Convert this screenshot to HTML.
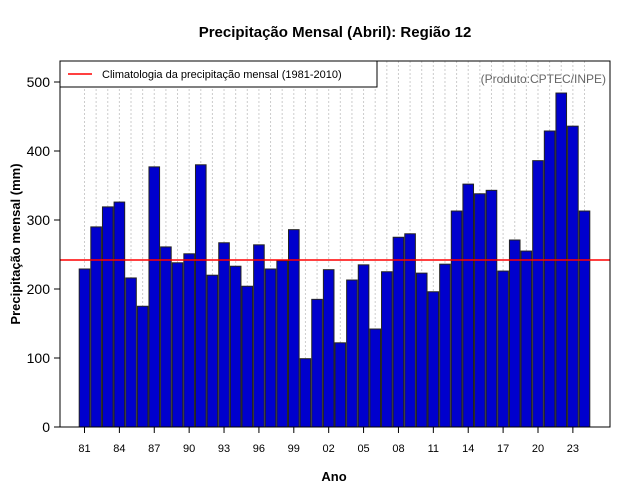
<!DOCTYPE html>
<html><head><meta charset="utf-8"><style>body{margin:0;background:#fff}svg{display:block;font-family:"Liberation Sans",sans-serif}</style></head>
<body>
<svg id="chart" width="640" height="500">
<text x="335" y="37" text-anchor="middle" font-size="15" font-weight="bold">Precipitação Mensal (Abril): Região 12</text>
<g id="grid"></g>
<g id="bars"></g>
<line id="clim" stroke="#ff0000" stroke-width="1.5" x1="60" x2="610"/>
<rect x="60" y="61" width="550" height="366" fill="none" stroke="#000"/>
<g id="yaxis"></g><g id="xaxis"></g>
<g>
<rect x="60" y="61" width="317" height="26" fill="#fff" stroke="#000"/>
<line x1="68" x2="92" y1="74" y2="74" stroke="#ff0000" stroke-width="1.5"/>
<text x="102" y="78" font-size="11">Climatologia da precipitação mensal (1981-2010)</text>
</g>
<text x="606" y="83" text-anchor="end" font-size="12" fill="#666">(Produto:CPTEC/INPE)</text>
<text x="20" y="244" text-anchor="middle" font-size="13" font-weight="bold" transform="rotate(-90 20 244)">Precipitação mensal (mm)</text>
<text x="334" y="481" text-anchor="middle" font-size="13" font-weight="bold">Ano</text>
</svg>
<script>
const years=[1981,1982,1983,1984,1985,1986,1987,1988,1989,1990,1991,1992,1993,1994,1995,1996,1997,1998,1999,2000,2001,2002,2003,2004,2005,2006,2007,2008,2009,2010,2011,2012,2013,2014,2015,2016,2017,2018,2019,2020,2021,2022,2023,2024];
const values=[229,290,319,326,216,175,377,261,238,251,380,220,267,233,204,264,229,241,286,99,185,228,122,213,235,142,225,275,280,223,196,236,313,352,338,343,226,271,255,386,429,484,436,313];
const climatology=[242];
const yTicks=[0,100,200,300,400,500];
const NS="http://www.w3.org/2000/svg";
const y=v=>427-v*0.69;
const x=i=>84.5+i*(500/43);
const mk=(t,a,p)=>{const e=document.createElementNS(NS,t);for(const k in a)e.setAttribute(k,a[k]);p.appendChild(e);return e;};
const grid=document.getElementById('grid'),bars=document.getElementById('bars'),ya=document.getElementById('yaxis'),xa=document.getElementById('xaxis');
years.forEach((yr,i)=>{
 const g=mk('line',{x1:x(i),x2:x(i),y1:61,y2:427,stroke:'#ccc','stroke-dasharray':'2,2'},grid);
 
 
 const r=mk('rect',{x:x(i)-5.3,y:y(values[i]),width:10.6,height:427-y(values[i]),fill:'#0000cd',stroke:'#222','stroke-width':1},bars);
 
 
 if(i%3===0){
  const t=mk('line',{x1:x(i),x2:x(i),y1:427,y2:433,stroke:'#000'},xa);
  
  
  const l=mk('text',{x:x(i),y:452,'text-anchor':'middle','font-size':11},xa);
  l.textContent=String(yr%100).padStart(2,'0');
  
  
 }
});
const c=document.getElementById('clim');c.setAttribute('y1',y(climatology[0]));c.setAttribute('y2',y(climatology[0]));
yTicks.forEach(v=>{
 const t=mk('line',{x1:54,x2:60,y1:y(v),y2:y(v),stroke:'#000'},ya);
 
 
 const l=mk('text',{x:50,y:y(v)+5,'text-anchor':'end','font-size':14},ya);
 l.textContent=v;
 
 
});
</script>
</body></html>
